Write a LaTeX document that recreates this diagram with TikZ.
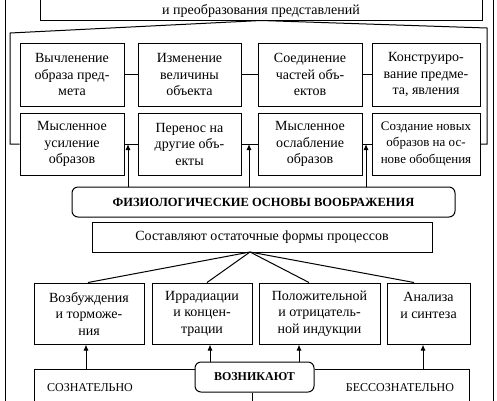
\documentclass[tikz,border=0pt]{standalone}
\usepackage{fontspec}
\setmainfont{Liberation Serif}
\usetikzlibrary{arrows.meta}
\begin{document}
\begin{tikzpicture}[x=1pt,y=-1pt,
  box/.style={draw, line width=1pt, align=center, inner sep=0pt, font=\fontsize{14}{16.5}\selectfont},
  rbox/.style={box, rounded corners=6pt, font=\fontsize{12.5}{15}\selectfont\bfseries},
  ln/.style={line width=1pt},
  arr/.style={line width=1pt, -{Latex[length=6pt,width=5pt]}},
  lbl/.style={inner sep=0pt, font=\fontsize{12}{14}\selectfont},
]
\useasboundingbox (0,0) rectangle (497,400);
\clip (0,0) rectangle (497,400);
% outer frame
\draw[ln] (5,-2) -- (5,402);
\draw[ln] (493,-2) -- (493,402);
% top box
\node[box, minimum width=442, minimum height=40] (topbox) at (261,0) {};
\node[inner sep=0pt, font=\fontsize{14}{16.5}\selectfont] (toptext) at (261,11) {и преобразования представлений};
% row 1
\node[box, minimum width=104, minimum height=63] (n1) at (72,74.5) {Вычленение\\образа пред-\\мета};
\node[box, minimum width=103, minimum height=63] (n2) at (189.5,74.5) {Изменение\\величины\\объекта};
\node[box, minimum width=104, minimum height=63] (n3) at (310,74.5) {Соединение\\частей объ-\\ектов};
\node[box, minimum width=108, minimum height=63] (n4) at (426,74.5) {Конструиро-\\вание предме-\\та, явления};
% row 2
\node[box, minimum width=104, minimum height=62] (n5) at (72,144) {Мысленное\\усиление\\образов};
\node[box, minimum width=103, minimum height=62] (n6) at (189.5,144) {Перенос на\\другие объ-\\екты};
\node[box, minimum width=104, minimum height=62] (n7) at (310,144) {Мысленное\\ослабление\\образов};
\node[box, minimum width=108, minimum height=62, font=\fontsize{13}{16.5}\selectfont] (n8) at (426,144) {Создание новых\\образов на ос-\\нове обобщения};
\draw[ln] (n1.east) -- (n2.west);
\draw[ln] (n2.east) -- (n3.west);
\draw[ln] (n3.east) -- (n4.west);
\draw[ln] (n5.east) -- (n6.west);
\draw[ln] (n6.east) -- (n7.west);
\draw[ln] (n7.east) -- (n8.west);
% brackets from top box
\coordinate (tl) at (10,33);
\coordinate (tr) at (487,28);
\draw[ln] (topbox.south) -- (tl) -- (tl |- n5.west) -- (n5.west);
\draw[ln] (topbox.south) -- (tr) -- (tr |- n8.east) -- (n8.east);
% physiological
\node[rbox, minimum width=383, minimum height=30] (phys) at (263.5,202) {ФИЗИОЛОГИЧЕСКИЕ ОСНОВЫ ВООБРАЖЕНИЯ};
\node[box, minimum width=340, minimum height=30] (sost) at (262,237) {Составляют остаточные формы процессов};
\coordinate (p1) at (128,144);
\coordinate (p2) at (249,144);
\coordinate (p3) at (366,144);
\draw[arr] (p1 |- phys.north) -- (p1);
\draw[arr] (p2 |- phys.north) -- (p2);
\draw[arr] (p3 |- phys.north) -- (p3);
% row 3
\node[box, minimum width=110, minimum height=61] (A) at (89,313.5) {Возбуждения\\и торможе-\\ния};
\node[box, minimum width=100, minimum height=61] (B) at (202,313.5) {Иррадиации\\и концен-\\трации};
\node[box, minimum width=121, minimum height=61] (C) at (319.5,313.5) {Положительной\\и отрицатель-\\ной индукции};
\node[box, minimum width=83, minimum height=61] (D) at (428.5,313.5) {Анализа\\и синтеза\\\mbox{}};
\coordinate (fan) at (250,252);
\draw[ln] (fan) -- ([xshift=-1pt]A.north);
\draw[ln] (fan) -- ([xshift=5pt]B.north);
\draw[ln] (fan) -- ([xshift=-10.5pt]C.north);
\draw[ln] (fan) -- ([xshift=-14.5pt]D.north);
% bottom
\node[rbox, minimum width=119, minimum height=30, font=\fontsize{12}{14}\selectfont\bfseries] (voz) at (254.5,377) {ВОЗНИКАЮТ};
\coordinate (lt) at (34,369);
\coordinate (rt) at (469,369);
\coordinate (mid) at (252,402);
\draw[ln] (34,402) -- (lt) -- (lt -| voz.west);
\draw[ln] (rt -| voz.east) -- (rt) -- (469,402);
\draw[ln] (mid |- voz.south) -- (mid);
\node[lbl] (soz) at (90,388) {СОЗНАТЕЛЬНО};
\node[lbl] (bes) at (400,388) {БЕССОЗНАТЕЛЬНО};
\coordinate (a1) at (86,369);
\coordinate (a2) at (210,369);
\coordinate (a3) at (299,369);
\coordinate (a4) at (423,369);
\draw[arr] (a1) -- (a1 |- A.south);
\draw[arr] (a2 |- voz.north) -- (a2 |- B.south);
\draw[arr] (a3 |- voz.north) -- (a3 |- C.south);
\draw[arr] (a4) -- (a4 |- D.south);
\end{tikzpicture}
\end{document}
